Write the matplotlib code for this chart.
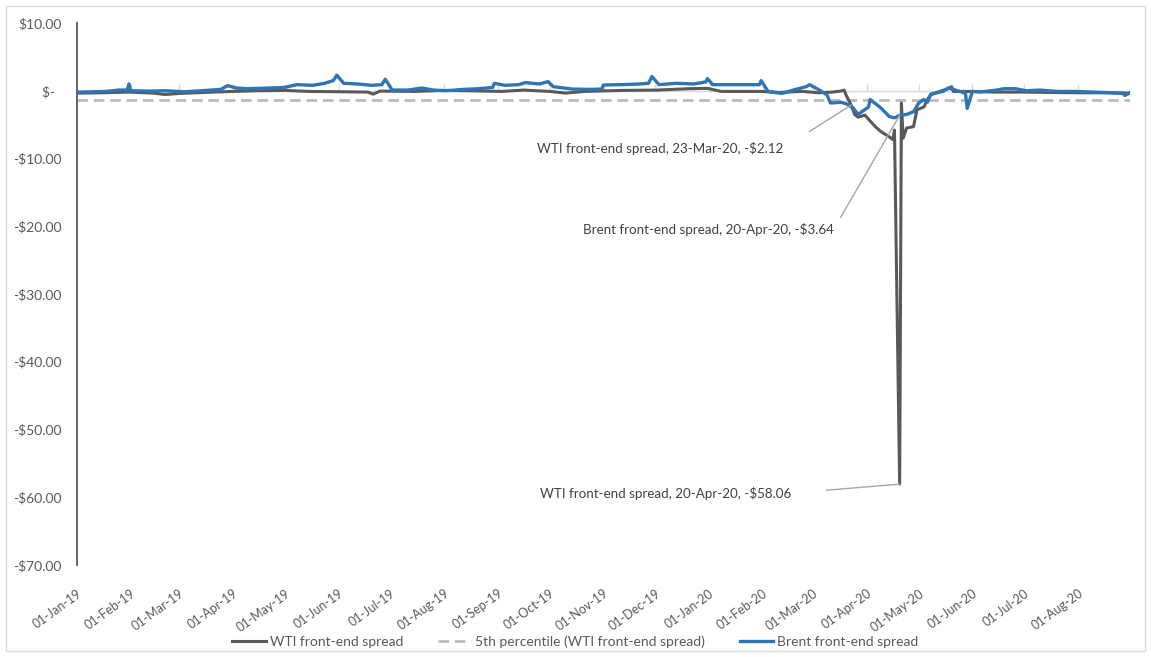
import matplotlib
matplotlib.use("Agg")
import matplotlib.pyplot as plt
import matplotlib.dates as mdates
import matplotlib.ticker as mticker
import pandas as pd
from matplotlib.patches import Rectangle

plt.rcParams['font.family'] = ['Lato', 'DejaVu Sans']

# WTI front-end spread (M1 - M2), $/bbl
wti_dates = ['2019-01-02', '2019-01-15', '2019-01-31', '2019-02-14', '2019-02-21',
             '2019-03-01', '2019-03-15', '2019-04-01', '2019-04-15', '2019-05-01',
             '2019-05-15', '2019-06-03', '2019-06-18', '2019-06-21', '2019-06-25',
             '2019-07-15', '2019-08-01', '2019-08-15', '2019-09-03', '2019-09-16',
             '2019-10-01', '2019-10-10', '2019-10-21', '2019-11-12', '2019-12-02',
             '2019-12-20', '2019-12-31', '2020-01-08', '2020-01-31', '2020-02-10',
             '2020-02-24', '2020-03-04', '2020-03-12', '2020-03-17', '2020-03-19',
             '2020-03-20', '2020-03-23', '2020-03-25', '2020-03-27', '2020-03-31',
             '2020-04-02', '2020-04-06', '2020-04-09', '2020-04-14', '2020-04-16',
             '2020-04-17', '2020-04-20', '2020-04-21', '2020-04-22', '2020-04-24',
             '2020-04-28', '2020-04-30', '2020-05-04', '2020-05-06', '2020-05-08',
             '2020-05-13', '2020-05-18', '2020-05-20', '2020-05-21', '2020-06-01',
             '2020-06-15', '2020-07-01', '2020-07-15', '2020-08-03', '2020-08-17',
             '2020-08-31']
wti_vals = [-0.35, -0.30, -0.20, -0.35, -0.55,
            -0.40, -0.25, -0.10, 0.00, 0.05,
            -0.10, -0.15, -0.20, -0.50, -0.05,
            -0.10, 0.05, 0.00, -0.10, 0.10,
            -0.10, -0.35, -0.10, 0.05, 0.10,
            0.30, 0.35, -0.10, -0.10, -0.25,
            -0.10, -0.30, -0.20, -0.05, 0.10,
            -0.60, -2.12, -3.50, -3.90, -3.60,
            -4.20, -5.30, -6.00, -6.80, -7.20,
            -5.80, -58.06, -1.80, -7.00, -5.50,
            -5.30, -2.80, -2.40, -1.30, -0.60,
            -0.10, 0.30, 0.60, -0.10, -0.10,
            -0.20, -0.20, -0.25, -0.30, -0.30,
            -0.35]

# Brent front-end spread (M1 - M2), $/bbl
brent_dates = ['2019-01-02', '2019-01-10', '2019-01-18', '2019-01-25', '2019-01-30',
               '2019-01-31', '2019-02-01', '2019-02-11', '2019-02-21', '2019-03-04',
               '2019-03-14', '2019-03-25', '2019-03-29', '2019-04-03', '2019-04-10',
               '2019-04-22', '2019-05-01', '2019-05-08', '2019-05-17', '2019-05-24',
               '2019-05-29', '2019-05-31', '2019-06-04', '2019-06-12', '2019-06-20',
               '2019-06-26', '2019-06-28', '2019-07-02', '2019-07-11', '2019-07-19',
               '2019-07-26', '2019-08-02', '2019-08-12', '2019-08-21', '2019-08-29',
               '2019-08-30', '2019-09-05', '2019-09-13', '2019-09-17', '2019-09-25',
               '2019-09-30', '2019-10-03', '2019-10-14', '2019-10-24', '2019-10-31',
               '2019-11-01', '2019-11-12', '2019-11-22', '2019-11-27', '2019-11-29',
               '2019-12-03', '2019-12-13', '2019-12-23', '2019-12-30', '2019-12-31',
               '2020-01-03', '2020-01-14', '2020-01-24', '2020-01-30', '2020-01-31',
               '2020-02-04', '2020-02-12', '2020-02-20', '2020-02-26', '2020-02-28',
               '2020-03-04', '2020-03-09', '2020-03-11', '2020-03-12', '2020-03-17',
               '2020-03-20', '2020-03-24', '2020-03-27', '2020-04-02', '2020-04-03',
               '2020-04-06', '2020-04-09', '2020-04-14', '2020-04-17', '2020-04-20',
               '2020-04-24', '2020-04-28', '2020-05-01', '2020-05-04', '2020-05-06',
               '2020-05-08', '2020-05-15', '2020-05-18', '2020-05-21', '2020-05-26',
               '2020-05-28', '2020-05-29', '2020-06-01', '2020-06-05', '2020-06-15',
               '2020-06-19', '2020-06-26', '2020-07-02', '2020-07-10', '2020-07-20',
               '2020-07-30', '2020-08-10', '2020-08-20', '2020-08-27', '2020-08-28',
               '2020-08-31']
brent_vals = [-0.20, -0.15, -0.10, 0.10, 0.10,
              1.00, 0.00, -0.05, 0.00, -0.15,
              0.00, 0.20, 0.75, 0.40, 0.30,
              0.40, 0.50, 0.90, 0.80, 1.10,
              1.50, 2.30, 1.10, 1.00, 0.80,
              0.90, 1.70, 0.10, 0.10, 0.40,
              0.10, 0.00, 0.20, 0.30, 0.50,
              1.10, 0.80, 0.90, 1.20, 1.00,
              1.35, 0.60, 0.25, 0.20, 0.25,
              0.85, 0.90, 1.00, 1.10, 2.10,
              0.90, 1.10, 1.00, 1.30, 1.80,
              0.90, 0.90, 0.90, 0.90, 1.50,
              -0.10, -0.40, 0.20, 0.60, 0.90,
              0.20, -0.60, -1.80, -1.80, -1.70,
              -1.90, -2.50, -3.50, -2.40, -1.30,
              -1.90, -2.50, -3.80, -4.00, -3.64,
              -3.50, -3.10, -1.80, -1.30, -1.70,
              -0.50, -0.10, 0.40, 0.20, -0.20,
              -0.40, -2.60, -0.10, -0.20, 0.10,
              0.30, 0.30, 0.00, 0.10, -0.10,
              -0.10, -0.20, -0.30, -0.40, -0.70,
              -0.30]

# 5th percentile of the WTI front-end spread
wti_pct5 = -1.40

y_ticks = [10, 0, -10, -20, -30, -40, -50, -60, -70]

# points that get a data label: (series name, date)
labelled = [('WTI', '2020-03-23'), ('Brent', '2020-04-20'), ('WTI', '2020-04-20')]

wti = pd.Series(wti_vals, index=pd.to_datetime(wti_dates))
brent = pd.Series(brent_vals, index=pd.to_datetime(brent_dates))

dark = '#595959'
fig = plt.figure(figsize=(11.51, 6.57), dpi=100)
ax = fig.add_axes([77/1151, 1 - 565/657, (1130 - 77)/1151, (565 - 23)/657])

ax.plot(wti.index, wti.values, color='#595959', lw=2.2, label='WTI front-end spread',
        solid_joinstyle='round', zorder=3)
ax.axhline(wti_pct5, color='#b8b8b8', lw=1.9, dashes=(4, 2.2),
           label='5th percentile (WTI front-end spread)', zorder=2)
ax.plot(brent.index, brent.values, color='#2e75b6', lw=2.4, label='Brent front-end spread',
        solid_joinstyle='round', zorder=4)

ax.set_xlim(pd.Timestamp('2019-01-01'), pd.Timestamp('2020-08-31'))
ax.set_ylim(-70, 10)
ax.set_yticks(y_ticks)


def dollars(v, pos):
    if v == 0:
        return '$-  '
    if v < 0:
        return '-${:,.2f}'.format(-v)
    return '${:,.2f}'.format(v)


ax.yaxis.set_major_formatter(mticker.FuncFormatter(dollars))
ax.tick_params(axis='y', length=0, pad=11, labelsize=10, labelcolor=dark)

ax.xaxis.set_major_locator(mdates.MonthLocator())
ax.xaxis.set_major_formatter(mdates.DateFormatter('%d-%b-%y'))
ax.tick_params(axis='x', length=0, pad=16, labelsize=9, labelcolor=dark)
for lab in ax.get_xticklabels():
    lab.set_rotation(36)
    lab.set_ha('right')
    lab.set_rotation_mode('anchor')

for side in ['top', 'right', 'bottom']:
    ax.spines[side].set_visible(False)
ax.spines['left'].set_color(dark)
ax.spines['left'].set_linewidth(1.3)

# horizontal axis line through zero with month ticks
zero_ax = ax.secondary_xaxis((0 + 70) / 80)
zero_ax.xaxis.set_major_locator(mdates.MonthLocator())
zero_ax.tick_params(axis='x', direction='out', length=5, width=1, color='#d9d9d9',
                    labeltop=False, labelbottom=False)
for sp in zero_ax.spines.values():
    sp.set_color('#d9d9d9')
    sp.set_linewidth(1)

# data labels with leader lines
offsets = {0: (-68, -43, 20), 1: (-66, -114, 6), 2: (-108, -9, 23)}
for i, (name, d) in enumerate(labelled):
    s = wti if name == 'WTI' else brent
    t = pd.Timestamp(d)
    v = s[t]
    txt = '{} front-end spread, {}, -${:.2f}'.format(name, t.strftime('%d-%b-%y'), abs(v))
    dx, dy, gap = offsets[i]
    ax.annotate(txt, xy=(t, v), xytext=(dx, dy), textcoords='offset pixels',
                ha='right', va='center', fontsize=9.6, color='#404040',
                arrowprops=dict(arrowstyle='-', color='#a6a6a6', lw=1,
                                relpos=(1, 0.5), shrinkA=gap, shrinkB=0),
                zorder=5)

fig.legend(loc='center', bbox_to_anchor=(0.5, 1 - 642/657), ncol=3, frameon=False,
           fontsize=10, labelcolor=dark, handlelength=2.4, handletextpad=0.3,
           columnspacing=2.5)

fig.patches.append(Rectangle((6/1151, 6/657), 1 - 12/1151, 1 - 12/657,
                             transform=fig.transFigure, fill=False,
                             edgecolor='#d9d9d9', lw=1))

fig.savefig('out.png', dpi=100, facecolor='white')
